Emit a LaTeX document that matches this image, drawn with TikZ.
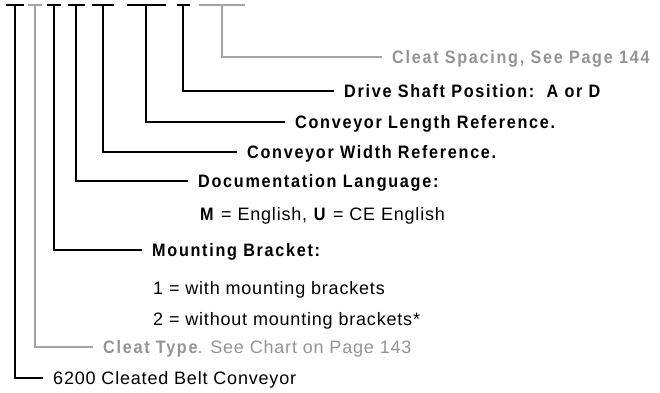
\documentclass[tikz,border=0pt]{standalone}
\usepackage{fontspec}
\setmainfont{Liberation Sans}[LetterSpace=4.5, BoldFeatures={FakeStretch=0.9, LetterSpace=9.5}]
\definecolor{lgray}{RGB}{165,165,165}
\definecolor{tgray}{RGB}{148,148,148}
\begin{document}
\begin{tikzpicture}[x=1pt,y=-1pt,
  conn/.style={line width=2pt, shorten >=10pt},
  bar/.style={line width=2pt},
  lbl/.style={anchor=west, inner sep=0pt, text height=13pt, text depth=0pt, font=\fontsize{18}{21}\selectfont}]
\useasboundingbox (0,0) rectangle (660,392);
% top coordinates
\coordinate (t1) at (15,5);
\coordinate (t2) at (35,5);
\coordinate (t3) at (54,5);
\coordinate (t4) at (76,5);
\coordinate (t5) at (103,5);
\coordinate (t6) at (146,5);
\coordinate (t7) at (183,5);
\coordinate (t8) at (222,5);
% top bars
\draw[bar] ([xshift=-9pt]t1) -- ([xshift=9pt]t1);
\draw[bar,lgray] ([xshift=-7pt]t2) -- ([xshift=7pt]t2);
\draw[bar] ([xshift=-7pt]t3) -- ([xshift=7pt]t3);
\draw[bar] ([xshift=-8.5pt]t4) -- ([xshift=8.5pt]t4);
\draw[bar] ([xshift=-11pt]t5) -- ([xshift=11pt]t5);
\draw[bar] ([xshift=-19.5pt]t6) -- ([xshift=19.5pt]t6);
\draw[bar] ([xshift=-6.5pt]t7) -- ([xshift=6.5pt]t7);
\draw[bar,lgray] ([xshift=-23pt]t8) -- ([xshift=23pt]t8);
% labels
\node[lbl, text=tgray] (n8) at (392,57) {\bfseries Cleat Spacing, See Page 144};
\node[lbl] (n7) at (344,91) {\bfseries Drive Shaft Position:\ \ A or D};
\node[lbl] (n6) at (295,122) {\bfseries Conveyor Length Reference.};
\node[lbl] (n5) at (247,152) {\bfseries Conveyor Width Reference.};
\node[lbl] (n4) at (198,181) {\bfseries Documentation Language:};
\node[lbl] (n4a) at (200,214) {\textbf{M} = English, \textbf{U} = CE English};
\node[lbl] (n3) at (152,250) {\bfseries Mounting Bracket:};
\node[lbl] (n3a) at (153,288) {1 = with mounting brackets};
\node[lbl] (n3b) at (153,319) {2 = without mounting brackets*};
\node[lbl, text=tgray] (n2) at (103,347) {\textbf{Cleat Type}. See Chart on Page 143};
\node[lbl] (n1) at (53,378) {6200 Cleated Belt Conveyor};
% connectors
\draw[conn,lgray] (t8) |- (n8.west);
\draw[conn] (t7) |- (n7.west);
\draw[conn] (t6) |- (n6.west);
\draw[conn] (t5) |- (n5.west);
\draw[conn] (t4) |- (n4.west);
\draw[conn] (t3) |- (n3.west);
\draw[conn,lgray] (t2) |- (n2.west);
\draw[conn] (t1) |- (n1.west);
\end{tikzpicture}
\end{document}
